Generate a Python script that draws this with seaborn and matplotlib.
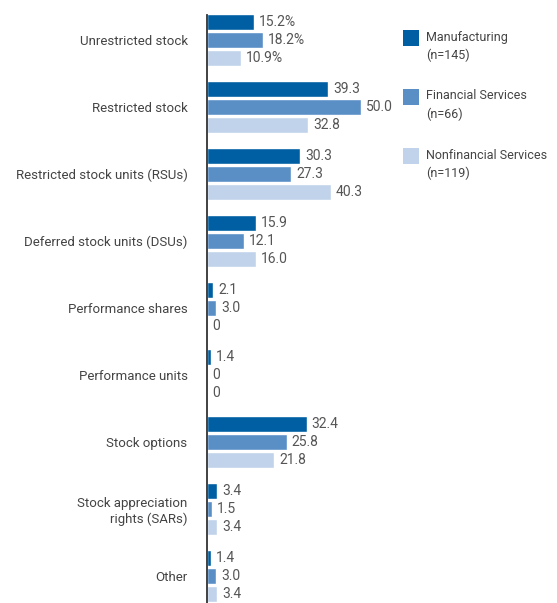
import matplotlib
matplotlib.use('Agg')
import matplotlib.pyplot as plt
from matplotlib.patches import Rectangle
import seaborn as sns
import pandas as pd

categories = ["Unrestricted stock", "Restricted stock", "Restricted stock units (RSUs)",
              "Deferred stock units (DSUs)", "Performance shares", "Performance units",
              "Stock options", "Stock appreciation\nrights (SARs)", "Other"]
sectors = ["Manufacturing", "Financial Services", "Nonfinancial Services"]
sector_n = ["(n=145)", "(n=66)", "(n=119)"]
manufacturing = [15.2, 39.3, 30.3, 15.9, 2.1, 1.4, 32.4, 3.4, 1.4]
financial = [18.2, 50.0, 27.3, 12.1, 3.0, 0, 25.8, 1.5, 3.0]
nonfinancial = [10.9, 32.8, 40.3, 16.0, 0, 0, 21.8, 3.4, 3.4]
colors = ["#005fa3", "#5a8fc6", "#c0d3ea"]

rows = []
for sector, vals in zip(sectors, [manufacturing, financial, nonfinancial]):
    for cat, v in zip(categories, vals):
        rows.append({"category": cat, "sector": sector, "value": v})
df = pd.DataFrame(rows)

sns.set_style("white")
plt.rcParams['font.family'] = ['Roboto', 'DejaVu Sans']

fig = plt.figure(figsize=(5.57, 6.03), dpi=100)
ax = fig.add_axes([207 / 557, 0.0, 185 / 557, 1 - 15 / 603])

sns.barplot(data=df, x="value", y="category", hue="sector", order=categories,
            hue_order=sectors, palette=colors, saturation=1, width=0.8, gap=0.12,
            legend=False, ax=ax)

# value labels
for container, vals in zip(ax.containers, [manufacturing, financial, nonfinancial]):
    labels = []
    for i, v in enumerate(vals):
        if v == 0:
            labels.append("0")
        elif i == 0:
            labels.append(f"{v:.1f}%")
        else:
            labels.append(f"{v:.1f}")
    ax.bar_label(container, labels=labels, padding=3.5, fontsize=10, color="#555555")

ax.set_xlim(0, 60)
ax.set_ylim(8.40, -0.373)
ax.set_xlabel("")
ax.set_ylabel("")
ax.set_xticks([])
ax.tick_params(axis="y", length=0, pad=14, labelsize=9.5, labelcolor="#444444")
for lbl in ax.get_yticklabels():
    lbl.set_multialignment("right")
for s in ["top", "right", "bottom"]:
    ax.spines[s].set_visible(False)
ax.spines["left"].set_color("#333333")
ax.spines["left"].set_linewidth(1.3)

# legend
for k, (name, n) in enumerate(zip(sectors, sector_n)):
    top = 30 + k * 59
    fig.add_artist(Rectangle((403 / 557, 1 - (top + 16) / 603), 16 / 557, 16 / 603,
                             transform=fig.transFigure, color=colors[k], lw=0))
    fig.text(426 / 557, 1 - (top + 7) / 603, name, fontsize=9, color="#444444", va="center")
    fig.text(426 / 557, 1 - (top + 25) / 603, n, fontsize=9, color="#444444", va="center")

fig.savefig("out.png", dpi=100)
